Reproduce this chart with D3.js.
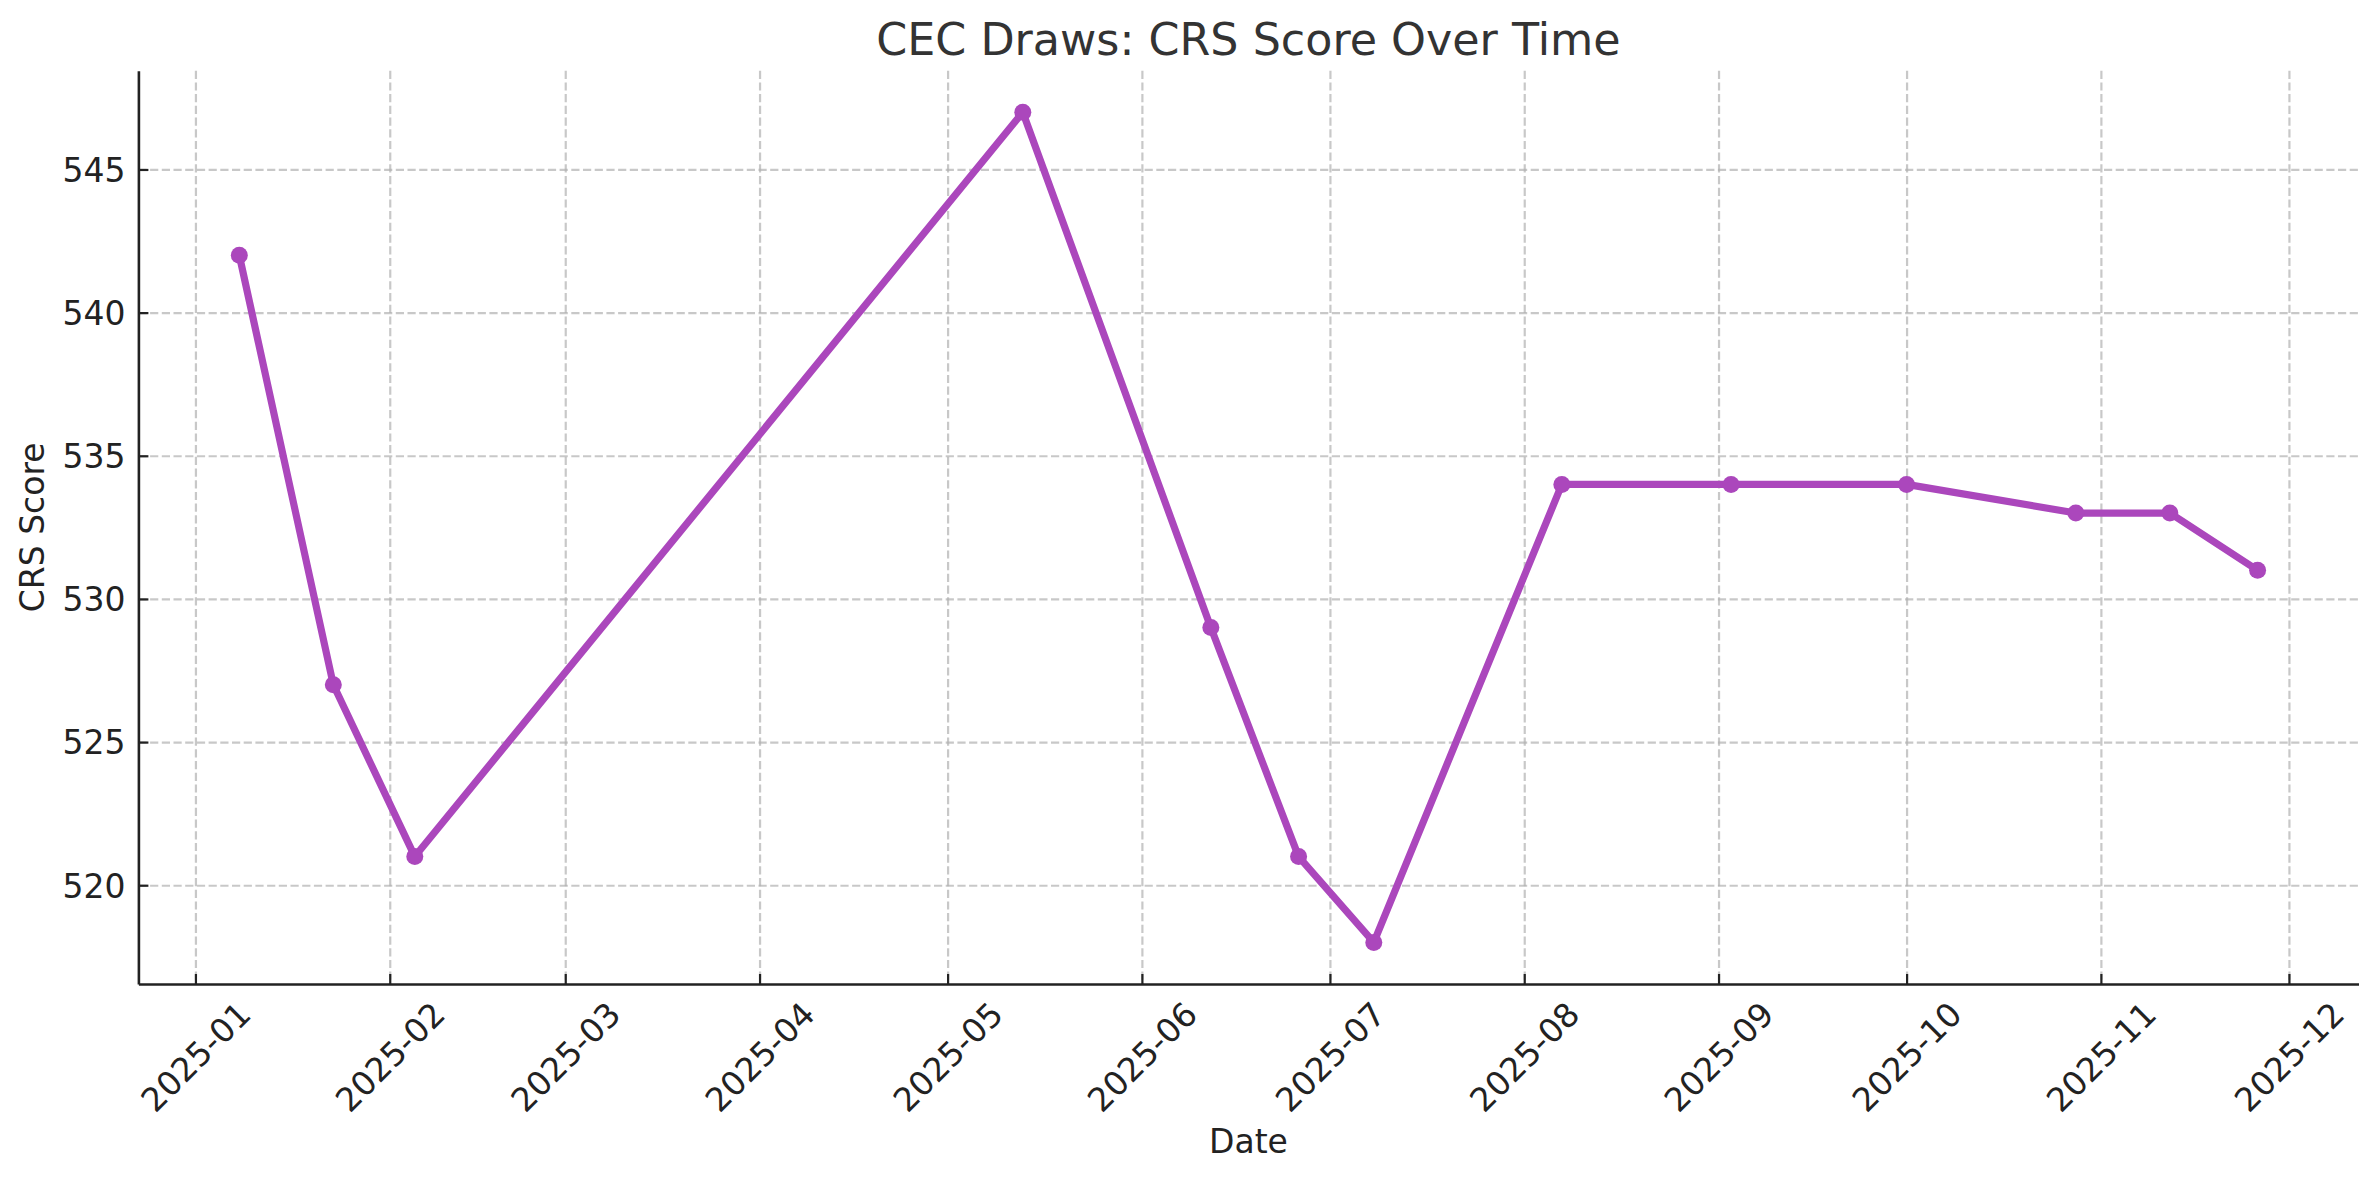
<!DOCTYPE html>
<html>
<head>
<meta charset="utf-8">
<script src="https://cdn.jsdelivr.net/npm/d3@7"></script>
<style>
  body { margin: 0; background: #fff; }
  svg { display: block; font-family: "DejaVu Sans", sans-serif; }
  .grid line { stroke: #b0b0b0; stroke-opacity: 0.7; stroke-width: 2.2; stroke-dasharray: 8.2, 3.5; }
  .grid .domain { display: none; }
  .axis .domain { stroke: #222; stroke-width: 2.6; }
  .axis line { stroke: #222; stroke-width: 2.2; }
  .axis text { fill: #222; font-size: 33px; font-family: "DejaVu Sans", sans-serif; }
</style>
</head>
<body>
<div id="chart"></div>
<script>
//draw dates and scores
var drawDates = ["2025-01-08", "2025-01-23", "2025-02-05", "2025-05-13", "2025-06-12", "2025-06-26", "2025-07-08",
  "2025-08-07", "2025-09-03", "2025-10-01", "2025-10-28", "2025-11-12", "2025-11-26"];
var crsScores = [542, 527, 521, 547, 529, 521, 518, 534, 534, 534, 533, 533, 531];
var yTicks = [520, 525, 530, 535, 540, 545];
var monthTicks = ["2025-01", "2025-02", "2025-03", "2025-04", "2025-05", "2025-06",
  "2025-07", "2025-08", "2025-09", "2025-10", "2025-11", "2025-12"];

var margin = { top: 70.7, right: 18.5, bottom: 196, left: 138.4 };
var width = 2377 - margin.left - margin.right;
var height = 1180 - margin.top - margin.bottom;

var parseDay = d3.utcParse("%Y-%m-%d");
var parseMonth = d3.utcParse("%Y-%m");
var fmtMonth = d3.utcFormat("%Y-%m");

var data = drawDates.map(function (d, i) {
  return { date: parseDay(d), score: crsScores[i] };
});

//pad both domains by 5% like matplotlib does
var xExt = d3.extent(data, function (d) { return d.date; });
var xPad = (xExt[1] - xExt[0]) * 0.05;
var x = d3.scaleUtc().domain([new Date(+xExt[0] - xPad), new Date(+xExt[1] + xPad)]).range([0, width]);
var yExt = d3.extent(data, function (d) { return d.score; });
var yPad = (yExt[1] - yExt[0]) * 0.05;
var y = d3.scaleLinear().domain([yExt[0] - yPad, yExt[1] + yPad]).range([height, 0]);

var svg = d3.select("#chart").append("svg").attr("width", 2377).attr("height", 1180);
var g = svg.append("g").attr("transform", "translate(" + margin.left + "," + margin.top + ")");

var monthDates = monthTicks.map(parseMonth);

//grid lines
g.append("g").attr("class", "grid")
  .call(d3.axisBottom(x).tickValues(monthDates).tickSize(height).tickFormat(""));
g.append("g").attr("class", "grid")
  .call(d3.axisLeft(y).tickValues(yTicks).tickSize(-width).tickFormat(""));

//x axis, ticks pointing in
var xAxis = g.append("g").attr("class", "axis").attr("transform", "translate(0," + height + ")")
  .call(d3.axisBottom(x).tickValues(monthDates).tickSizeInner(-10).tickSizeOuter(0).tickFormat(fmtMonth));
xAxis.attr("font-family", null).attr("font-size", null);
xAxis.selectAll("text")
  .attr("y", null).attr("dy", null)
  .attr("text-anchor", "middle").attr("dominant-baseline", "central")
  .attr("transform", "translate(0,73) rotate(-45)");

//y axis
var yAxis = g.append("g").attr("class", "axis")
  .call(d3.axisLeft(y).tickValues(yTicks).tickSizeInner(-10).tickSizeOuter(0).tickPadding(13));
yAxis.attr("font-family", null).attr("font-size", null);
yAxis.selectAll("text").attr("dy", "0.36em");

//line and markers
var line = d3.line().x(function (d) { return x(d.date); }).y(function (d) { return y(d.score); });
g.append("path").datum(data).attr("d", line)
  .attr("fill", "none").attr("stroke", "#ab47bc").attr("stroke-width", 7.2).attr("stroke-linejoin", "round");
g.selectAll(".dot").data(data).enter().append("circle").attr("class", "dot")
  .attr("cx", function (d) { return x(d.date); })
  .attr("cy", function (d) { return y(d.score); })
  .attr("r", 8.5).attr("fill", "#ab47bc");

//title and axis labels
svg.append("text").attr("x", margin.left + width / 2).attr("y", 55)
  .attr("text-anchor", "middle").style("font-size", "44.4px").style("fill", "#333")
  .text("CEC Draws: CRS Score Over Time");
svg.append("text").attr("x", margin.left + width / 2).attr("y", 1152.5)
  .attr("text-anchor", "middle").style("font-size", "33px").style("fill", "#222")
  .text("Date");
svg.append("text").attr("transform", "translate(44," + (margin.top + height / 2) + ") rotate(-90)")
  .attr("text-anchor", "middle").style("font-size", "33px").style("fill", "#222")
  .text("CRS Score");
</script>
</body>
</html>
